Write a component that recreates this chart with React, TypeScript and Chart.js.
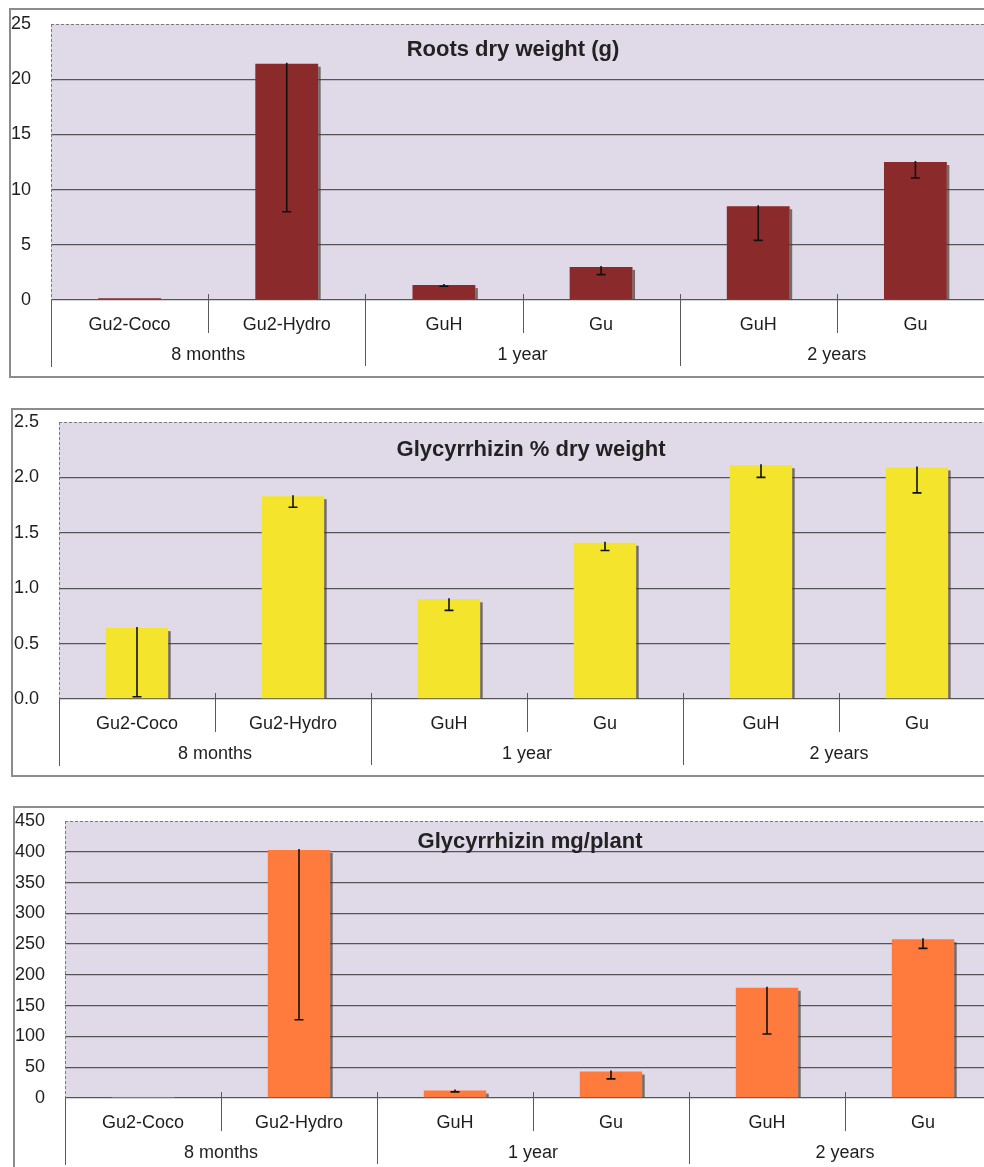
import React, { useEffect, useRef } from 'react';
import { Chart, registerables } from 'chart.js';

Chart.register(...registerables);

// ---------- data ----------
const categories = ['Gu2-Coco', 'Gu2-Hydro', 'GuH', 'Gu', 'GuH', 'Gu'];
const groups = ['8 months', '1 year', '2 years'];
const groupSpans = [2, 2, 2];

const rootsDryWeight = [0.15, 21.4, 1.35, 3.0, 8.5, 12.5];
const rootsDryWeightErr = [0, 13.4, 0.1, 0.7, 3.1, 1.45];
const rootsTickLabels = ['0', '5', '10', '15', '20', '25'];

const glyPercent = [0.64, 1.83, 0.9, 1.41, 2.11, 2.09];
const glyPercentErr = [0.62, 0.1, 0.1, 0.07, 0.11, 0.23];
const glyPercentTickLabels = ['0.0', '0.5', '1.0', '1.5', '2.0', '2.5'];

const glyMg = [0.5, 403, 12, 43, 179, 258];
const glyMgErr = [0, 276, 2, 12, 75, 15];
const glyMgTickLabels = ['0', '50', '100', '150', '200', '250', '300', '350', '400', '450'];

const titles = ['Roots dry weight (g)', 'Glycyrrhizin % dry weight', 'Glycyrrhizin mg/plant'];

// ---------- styling ----------
const PLOT_BG = '#E0DAE8';
const GRID = '#555555';
const TEXT = '#1e1e1e';
const FONT = '"Liberation Sans", Arial, sans-serif';
const CANVAS_SHIFT = 34; // canvas starts above the frame so the plot top can be placed freely

type Layout = {
  frameLeft: number; frameTop: number; frameW: number; frameH: number;
  plotLeft: number; plotTop: number; plotBottom: number; plotRight: number;
  titleDx: number; titleDy: number;
};

const layouts: Layout[] = [
  { frameLeft: 9, frameTop: 8, frameW: 1040, frameH: 370, plotLeft: 51, plotTop: 24, plotBottom: 300, plotRight: 994, titleDx: 462, titleDy: 26 },
  { frameLeft: 11, frameTop: 408, frameW: 1040, frameH: 369, plotLeft: 59, plotTop: 422, plotBottom: 699, plotRight: 995, titleDx: 472, titleDy: 28 },
  { frameLeft: 13, frameTop: 806, frameW: 1040, frameH: 380, plotLeft: 65, plotTop: 821, plotBottom: 1098, plotRight: 1001, titleDx: 465, titleDy: 21 },
];

type PanelProps = {
  layout: Layout;
  values: number[];
  errors: number[];
  color: string;
  tickLabels: string[];
  yMax: number;
  yStep: number;
  title: string;
};

function BarPanel({ layout, values, errors, color, tickLabels, yMax, yStep, title }: PanelProps) {
  const ref = useRef<HTMLCanvasElement>(null);
  const cw = layout.frameW - 4;
  const ch = layout.frameH - 4 + CANVAS_SHIFT;
  const cl = layout.frameLeft + 2;
  const ct = layout.frameTop + 2 - CANVAS_SHIFT;

  useEffect(() => {
    if (!ref.current) return;
    const yAxisWidth = layout.plotLeft - cl;
    const padTop = layout.plotTop - ct;
    const xAxisHeight = ct + ch - layout.plotBottom;
    const padRight = cl + cw - layout.plotRight;

    const panelPlugin = {
      id: 'panelDecor',
      beforeDraw(chart: any) {
        const { ctx, chartArea: a } = chart;
        ctx.save();
        ctx.fillStyle = PLOT_BG;
        ctx.fillRect(a.left, a.top, a.right - a.left, a.bottom - a.top);
        ctx.restore();
      },
      afterDatasetsDraw(chart: any) {
        const { ctx, chartArea: a } = chart;
        const yScale = chart.scales.y;
        const xScale = chart.scales.x;
        const meta = chart.getDatasetMeta(0);
        ctx.save();
        // bar shadows + error bars
        meta.data.forEach((bar: any, i: number) => {
          const p = bar.getProps(['x', 'y', 'base', 'width'], true);
          if (p.base - p.y > 4) {
            ctx.fillStyle = 'rgba(70,60,50,0.7)';
            ctx.fillRect(p.x + p.width / 2, p.y + 3, 2.5, p.base - p.y - 3);
          }
          const err = errors[i];
          if (err > 0) {
            const yLow = yScale.getPixelForValue(values[i] - err);
            ctx.strokeStyle = '#111';
            ctx.lineWidth = 1.6;
            ctx.beginPath();
            ctx.moveTo(p.x, p.y - 1);
            ctx.lineTo(p.x, yLow);
            ctx.moveTo(p.x - 4.5, yLow);
            ctx.lineTo(p.x + 4.5, yLow);
            ctx.stroke();
          }
        });
        // dashed top border and left border of plot
        ctx.strokeStyle = '#7a7a7a';
        ctx.lineWidth = 1;
        ctx.setLineDash([3, 2]);
        ctx.beginPath();
        ctx.moveTo(a.left, a.top + 0.5);
        ctx.lineTo(a.right, a.top + 0.5);
        ctx.moveTo(a.left + 0.5, a.top);
        ctx.lineTo(a.left + 0.5, a.bottom);
        ctx.stroke();
        ctx.setLineDash([]);
        // category axis: separators
        const n = categories.length;
        const catW = (a.right - a.left) / n;
        ctx.strokeStyle = '#5a5a5a';
        ctx.lineWidth = 1;
        ctx.beginPath();
        ctx.moveTo(a.left + 0.5, a.bottom);
        ctx.lineTo(a.left + 0.5, a.bottom + 67);
        const groupEnds: number[] = [];
        let acc = 0;
        groupSpans.forEach((s) => { acc += s; groupEnds.push(acc); });
        for (let k = 1; k < n; k++) {
          const x = Math.round(a.left + k * catW) + 0.5;
          const long = groupEnds.includes(k);
          ctx.moveTo(x, a.bottom - 6);
          ctx.lineTo(x, a.bottom + (long ? 66 : 33));
        }
        ctx.stroke();
        // category labels
        ctx.fillStyle = TEXT;
        ctx.font = `18px ${FONT}`;
        ctx.textAlign = 'center';
        ctx.textBaseline = 'middle';
        categories.forEach((c, i) => {
          ctx.fillText(c, xScale.getPixelForValue(i), a.bottom + 25);
        });
        // group labels
        let start = 0;
        groups.forEach((g, gi) => {
          const span = groupSpans[gi];
          const x = a.left + (start + span / 2) * catW;
          ctx.fillText(g, x, a.bottom + 55);
          start += span;
        });
        // title
        ctx.font = `bold 22px ${FONT}`;
        ctx.fillStyle = '#222';
        ctx.fillText(title, a.left + layout.titleDx, a.top + layout.titleDy);
        ctx.restore();
      },
    };

    const chart = new Chart(ref.current, {
      type: 'bar',
      data: {
        labels: categories,
        datasets: [
          {
            data: values,
            backgroundColor: color,
            borderWidth: 0,
            barPercentage: 0.4,
            categoryPercentage: 1,
          },
        ],
      },
      options: {
        responsive: false,
        devicePixelRatio: 1,
        animation: false,
        layout: { padding: { top: padTop, right: padRight, left: 0, bottom: 0 } },
        plugins: { legend: { display: false }, tooltip: { enabled: false }, title: { display: false } },
        scales: {
          x: {
            type: 'category',
            offset: true,
            grid: { display: false },
            border: { display: false },
            ticks: { display: false },
            afterFit: (s: any) => { s.height = xAxisHeight; },
          },
          y: {
            min: 0,
            max: yMax,
            border: { display: false },
            grid: {
              drawTicks: false,
              lineWidth: 1.3,
              color: (c: any) => (c.tick && c.tick.value >= yMax - 1e-9 ? 'rgba(0,0,0,0)' : GRID),
            },
            ticks: {
              stepSize: yStep,
              padding: 20,
              color: TEXT,
              font: { family: FONT, size: 18 },
              callback: (_v: any, i: number) => tickLabels[i],
            },
            afterFit: (s: any) => { s.width = yAxisWidth; },
          },
        },
      },
      plugins: [panelPlugin],
    } as any);
    return () => chart.destroy();
  }, []);

  return (
    <div
      style={{
        position: 'absolute',
        left: layout.frameLeft,
        top: layout.frameTop,
        width: layout.frameW,
        height: layout.frameH,
        border: '2px solid #8c8c8c',
        boxSizing: 'border-box',
        background: '#ffffff',
      }}
    >
      <canvas
        ref={ref}
        width={cw}
        height={ch}
        style={{ position: 'absolute', left: 0, top: -CANVAS_SHIFT, width: cw, height: ch }}
      />
    </div>
  );
}

export default function App() {
  return (
    <div style={{ position: 'fixed', left: 0, top: 0, width: 984, height: 1167, overflow: 'hidden', background: '#ffffff' }}>
      <BarPanel layout={layouts[0]} values={rootsDryWeight} errors={rootsDryWeightErr} color="#8B2A2A" tickLabels={rootsTickLabels} yMax={25} yStep={5} title={titles[0]} />
      <BarPanel layout={layouts[1]} values={glyPercent} errors={glyPercentErr} color="#F4E42C" tickLabels={glyPercentTickLabels} yMax={2.5} yStep={0.5} title={titles[1]} />
      <BarPanel layout={layouts[2]} values={glyMg} errors={glyMgErr} color="#FF7A3C" tickLabels={glyMgTickLabels} yMax={450} yStep={50} title={titles[2]} />
    </div>
  );
}
